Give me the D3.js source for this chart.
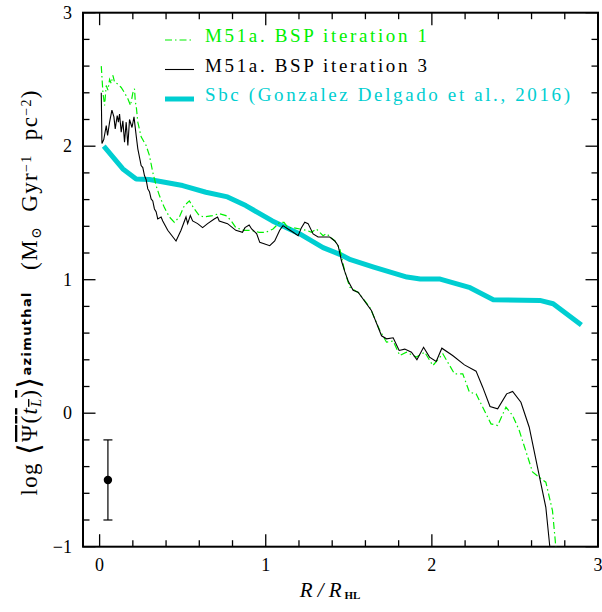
<!DOCTYPE html>
<html>
<head>
<meta charset="utf-8">
<script src="https://cdn.jsdelivr.net/npm/d3@7"></script>
<style>
  body { margin: 0; background: #fff; }
  svg text { font-family: "Liberation Serif", "DejaVu Serif", serif; }
</style>
</head>
<body>
<svg id="chart" width="602" height="612"></svg>
<script>

  // M51a, BSP iteration 3 (black)  [R/R_HL, log Psi]
  const iter3 = [
    [0.010, 2.40], [0.014, 2.02], [0.025, 2.05], [0.040, 2.155], [0.048, 2.08],
    [0.060, 2.18], [0.074, 2.27], [0.086, 2.22], [0.094, 2.13], [0.106, 2.23],
    [0.113, 2.18], [0.120, 2.24], [0.130, 2.105], [0.140, 2.19], [0.150, 2.03],
    [0.160, 2.18], [0.170, 2.005], [0.180, 2.20], [0.195, 2.14], [0.207, 2.22],
    [0.220, 2.08], [0.230, 1.98], [0.250, 1.855], [0.260, 1.84], [0.270, 1.78],
    [0.280, 1.75], [0.290, 1.68], [0.300, 1.66], [0.310, 1.605], [0.320, 1.59],
    [0.330, 1.53], [0.340, 1.51], [0.350, 1.455], [0.370, 1.47], [0.380, 1.44],
    [0.410, 1.37], [0.460, 1.29], [0.490, 1.37], [0.520, 1.47], [0.530, 1.42],
    [0.546, 1.48], [0.560, 1.44], [0.590, 1.42], [0.620, 1.39], [0.650, 1.42],
    [0.690, 1.455], [0.710, 1.47], [0.720, 1.44], [0.770, 1.42], [0.820, 1.37],
    [0.860, 1.355], [0.875, 1.39], [0.900, 1.41], [0.915, 1.38], [0.945, 1.345],
    [0.964, 1.28], [0.990, 1.27], [1.024, 1.255], [1.054, 1.29], [1.084, 1.37],
    [1.104, 1.405], [1.134, 1.38], [1.165, 1.355], [1.195, 1.33], [1.215, 1.39],
    [1.235, 1.43], [1.255, 1.42], [1.285, 1.343], [1.315, 1.32], [1.350, 1.32],
    [1.385, 1.32], [1.416, 1.29], [1.436, 1.255], [1.456, 1.14], [1.476, 1.06],
    [1.496, 0.99], [1.526, 0.92], [1.556, 0.906], [1.636, 0.77], [1.697, 0.58],
    [1.727, 0.557], [1.767, 0.565], [1.803, 0.47], [1.837, 0.48], [1.877, 0.457],
    [1.910, 0.40], [1.950, 0.494], [1.986, 0.42], [2.026, 0.387], [2.060, 0.487],
    [2.125, 0.432], [2.196, 0.362], [2.266, 0.315], [2.306, 0.195], [2.350, 0.05],
    [2.396, 0.033], [2.450, 0.145], [2.486, 0.163], [2.536, 0.082], [2.586, -0.105],
    [2.636, -0.405], [2.686, -0.705], [2.710, -1.0]
  ];

  // M51a, BSP iteration 1 (green, dot-dash)
  const iter1 = [
    [0.010, 2.60], [0.020, 2.40], [0.030, 2.305], [0.040, 2.455], [0.050, 2.42],
    [0.060, 2.50], [0.070, 2.47], [0.080, 2.53], [0.090, 2.48], [0.110, 2.465],
    [0.130, 2.44], [0.150, 2.40], [0.170, 2.355], [0.186, 2.305], [0.200, 2.40],
    [0.210, 2.43], [0.215, 2.33], [0.220, 2.305], [0.230, 2.18], [0.250, 2.07],
    [0.280, 2.005], [0.300, 1.93], [0.320, 1.805], [0.340, 1.705], [0.360, 1.63],
    [0.370, 1.60], [0.390, 1.54], [0.420, 1.47], [0.450, 1.43], [0.480, 1.47],
    [0.510, 1.555], [0.540, 1.59], [0.570, 1.53], [0.600, 1.48], [0.630, 1.47],
    [0.680, 1.48], [0.720, 1.495], [0.760, 1.48], [0.790, 1.445], [0.820, 1.39],
    [0.870, 1.37], [0.910, 1.37], [0.960, 1.355], [1.000, 1.355], [1.044, 1.38],
    [1.084, 1.43], [1.110, 1.43], [1.134, 1.39], [1.165, 1.39], [1.205, 1.38],
    [1.245, 1.37], [1.275, 1.355], [1.305, 1.38], [1.345, 1.33], [1.365, 1.345],
    [1.416, 1.29], [1.446, 1.23], [1.476, 1.06], [1.506, 0.944], [1.560, 0.90],
    [1.626, 0.794], [1.687, 0.62], [1.727, 0.532], [1.767, 0.54], [1.807, 0.432],
    [1.847, 0.457], [1.907, 0.42], [1.957, 0.457], [2.006, 0.357], [2.066, 0.445],
    [2.136, 0.295], [2.186, 0.295], [2.226, 0.157], [2.266, 0.145], [2.356, -0.08],
    [2.396, -0.092], [2.446, 0.045], [2.486, -0.017], [2.526, -0.13], [2.606, -0.44],
    [2.646, -0.48], [2.686, -0.517], [2.726, -0.73], [2.746, -1.0]
  ];

  // Sbc (Gonzalez Delgado et al., 2016) (thick cyan)
  const sbc = [
    [0.025, 2.0], [0.14, 1.83], [0.22, 1.755], [0.30, 1.75], [0.50, 1.705],
    [0.64, 1.655], [0.77, 1.62], [0.88, 1.555], [1.04, 1.44], [1.205, 1.343],
    [1.345, 1.24], [1.446, 1.19], [1.51, 1.15], [1.65, 1.095], [1.85, 1.02],
    [1.93, 1.005], [2.05, 1.005], [2.23, 0.94], [2.37, 0.85], [2.65, 0.845],
    [2.73, 0.82], [2.90, 0.66]
  ];

  // typical error bar: R, value, low, high
  const errBar = [0.05, -0.5, -0.8, -0.2];

  const legendLabels = [
    "M51a. BSP iteration 1",
    "M51a. BSP iteration 3",
    "Sbc (Gonzalez Delgado et al., 2016)"
  ];

  const xMajor = [0, 1, 2, 3];
  const yMajor = [-1, 0, 1, 2, 3];

  const colors = {iter1: '#00f000', iter3: '#000000', sbc: '#00ced1'};

  const pLeft = 83, pRight = 598, pTop = 12.7, pBottom = 546.7;

  const x = d3.scaleLinear().domain([-0.1, 3]).range([pLeft, pRight]);
  const y = d3.scaleLinear().domain([-1, 3]).range([pBottom, pTop]);

  const svg = d3.select('#chart');

  svg.append('clipPath').attr('id', 'plotclip')
    .append('rect')
      .attr('x', pLeft).attr('y', pTop)
      .attr('width', pRight - pLeft).attr('height', pBottom - pTop);

  const xMinor = d3.range(0, 3.01, 0.2).map(d => +d.toFixed(1)).filter(d => !xMajor.includes(d));
  const yMinor = d3.range(-1, 3.01, 0.2).map(d => +d.toFixed(1)).filter(d => !yMajor.includes(d));

  // tick labels (left and bottom only)
  const fmt = d => d < 0 ? '\u2212' + Math.abs(d) : String(d);
  svg.append('g').selectAll('text').data(xMajor).join('text')
    .attr('x', d => x(d)).attr('y', 571)
    .attr('text-anchor', 'middle')
    .style('font-size', '18px')
    .text(fmt);
  svg.append('g').selectAll('text').data(yMajor).join('text')
    .attr('x', 72).attr('y', d => y(d) + 6)
    .attr('text-anchor', 'end')
    .style('font-size', '18px')
    .text(fmt);

  // inward ticks on all four sides
  const ticks = svg.append('g').attr('stroke', '#000').attr('stroke-width', 1.3);
  [[xMajor, 12.5], [xMinor, 6.5]].forEach(([vals, len]) => {
    vals.forEach(v => {
      ticks.append('line').attr('x1', x(v)).attr('x2', x(v))
        .attr('y1', pBottom).attr('y2', pBottom - len);
      ticks.append('line').attr('x1', x(v)).attr('x2', x(v))
        .attr('y1', pTop).attr('y2', pTop + len);
    });
  });
  [[yMajor, 12.5], [yMinor, 6.5]].forEach(([vals, len]) => {
    vals.forEach(v => {
      ticks.append('line').attr('y1', y(v)).attr('y2', y(v))
        .attr('x1', pLeft).attr('x2', pLeft + len);
      ticks.append('line').attr('y1', y(v)).attr('y2', y(v))
        .attr('x1', pRight).attr('x2', pRight - len);
    });
  });

  // frame
  svg.append('rect')
    .attr('x', pLeft).attr('y', pTop)
    .attr('width', pRight - pLeft).attr('height', pBottom - pTop)
    .attr('fill', 'none').attr('stroke', '#000').attr('stroke-width', 2);

  const line = d3.line().x(d => x(d[0])).y(d => y(d[1]));
  const plot = svg.append('g').attr('clip-path', 'url(#plotclip)');

  plot.append('path').datum(sbc)
    .attr('d', line).attr('fill', 'none')
    .attr('stroke', colors.sbc).attr('stroke-width', 5)
    .attr('stroke-linejoin', 'round');

  plot.append('path').datum(iter1)
    .attr('d', line).attr('fill', 'none')
    .attr('stroke', colors.iter1).attr('stroke-width', 1.2)
    .attr('stroke-dasharray', '7,3,1.5,3');

  plot.append('path').datum(iter3)
    .attr('d', line).attr('fill', 'none')
    .attr('stroke', colors.iter3).attr('stroke-width', 1.1);

  // error bar
  const eb = svg.append('g').attr('stroke', '#000').attr('stroke-width', 1.2);
  eb.append('line')
    .attr('x1', x(errBar[0])).attr('x2', x(errBar[0]))
    .attr('y1', y(errBar[2])).attr('y2', y(errBar[3]));
  [errBar[2], errBar[3]].forEach(v => {
    eb.append('line')
      .attr('x1', x(errBar[0]) - 4.5).attr('x2', x(errBar[0]) + 4.5)
      .attr('y1', y(v)).attr('y2', y(v));
  });
  svg.append('circle')
    .attr('cx', x(errBar[0])).attr('cy', y(errBar[1])).attr('r', 4.2)
    .attr('fill', '#000');

  // legend
  const legendColors = [colors.iter1, colors.iter3, colors.sbc];
  const legendDash = ['7,3,1.5,3', null, null];
  const legendWidth = [1.2, 1.1, 5];
  const textLen = [222, 222, 365];
  const legend = svg.append('g');
  legendLabels.forEach((lab, i) => {
    const yy = 40 + i * 29.5;
    legend.append('line')
      .attr('x1', 165).attr('x2', 194).attr('y1', yy).attr('y2', yy)
      .attr('stroke', legendColors[i]).attr('stroke-width', legendWidth[i])
      .attr('stroke-dasharray', legendDash[i]);
    legend.append('text')
      .attr('x', 205).attr('y', yy + 2)
      .attr('fill', legendColors[i])
      .attr('textLength', textLen[i]).attr('lengthAdjust', 'spacing')
      .style('font-size', '19px')
      .text(lab);
  });

  // x label
  const xl = svg.append('text')
    .attr('x', 330).attr('y', 597)
    .attr('text-anchor', 'middle')
    .style('font-size', '21px')
    .style('white-space', 'pre');
  xl.append('tspan').style('font-style', 'italic').text('R / R');
  xl.append('tspan').attr('baseline-shift', '-20%')
    .style('font-size', '11px').style('font-weight', 'bold').text(' HL');

  // y label
  const yl = svg.append('text')
    .attr('transform', 'translate(37,293) rotate(-90)')
    .attr('text-anchor', 'middle')
    .attr('textLength', 405).attr('lengthAdjust', 'spacing')
    .style('font-size', '23px')
    .style('white-space', 'pre');
  yl.append('tspan').text('log ');
  yl.append('tspan').style('font-size', '30px').attr('baseline-shift', '-6%').text('\u27E8');
  const ov = yl.append('tspan').attr('baseline-shift', '0').style('text-decoration', 'overline');
  ov.append('tspan').text('\u03A8(');
  ov.append('tspan').style('font-style', 'italic').text('t');
  ov.append('tspan').attr('baseline-shift', '-25%').style('font-size', '14px').style('font-style', 'italic').text('L');
  ov.append('tspan').attr('baseline-shift', '0').text(')');
  yl.append('tspan').style('font-size', '30px').attr('baseline-shift', '-6%').text('\u27E9');
  yl.append('tspan').attr('baseline-shift', '45%')
    .style('font-size', '13px').style('font-weight', 'bold')
    .style('font-family', '"DejaVu Sans", sans-serif').text('azimuthal');
  yl.append('tspan').attr('baseline-shift', '0').text('   (M');
  yl.append('tspan').attr('baseline-shift', '-25%').style('font-size', '14px').text('\u2299');
  yl.append('tspan').attr('baseline-shift', '0').text('  Gyr');
  yl.append('tspan').attr('baseline-shift', '40%').style('font-size', '14px').text('\u22121');
  yl.append('tspan').attr('baseline-shift', '0').text('  pc');
  yl.append('tspan').attr('baseline-shift', '40%').style('font-size', '14px').text('\u22122');
  yl.append('tspan').attr('baseline-shift', '0').text(')');

</script>
</body>
</html>
